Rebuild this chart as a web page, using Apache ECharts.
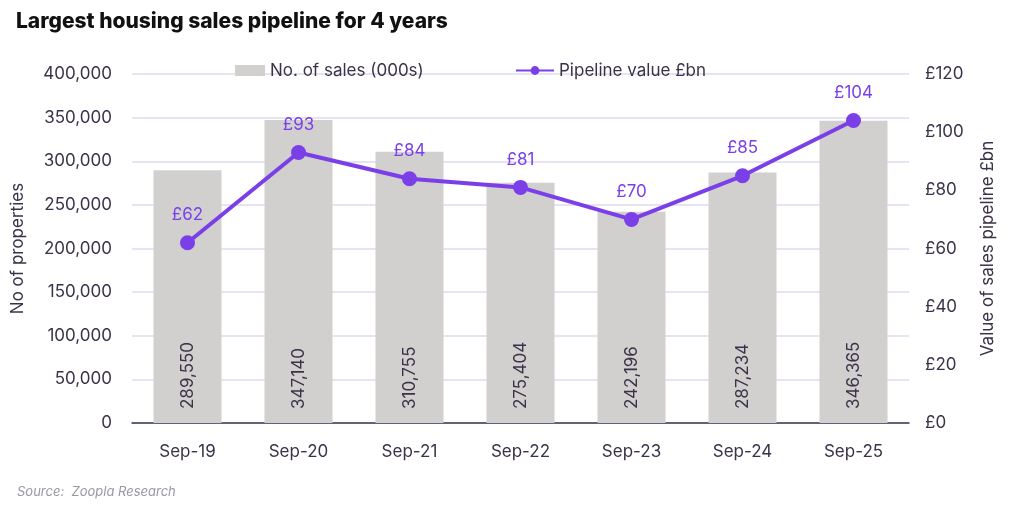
<!DOCTYPE html>
<html><head><meta charset="utf-8">
<script src="https://cdn.jsdelivr.net/npm/echarts@6/dist/echarts.min.js"></script>
<style>html,body{margin:0;padding:0;background:#fff}#c{width:1024px;height:507px}</style>
</head><body><div id="c"></div>
<script>
const categories = ['Sep-19','Sep-20','Sep-21','Sep-22','Sep-23','Sep-24','Sep-25'];
const salesCount = [289550, 347140, 310755, 275404, 242196, 287234, 346365];
const pipelineValue = [62, 93, 84, 81, 70, 85, 104];
const leftTicks = {min: 0, max: 400000, interval: 50000};
const rightTicks = {min: 0, max: 120, interval: 20};

const FONT = 'Inter, "Open Sans", sans-serif';
const TXT = '#3b3249';
const PURPLE = '#7b3fe8';
const chart = echarts.init(document.getElementById('c'));
chart.setOption({
  backgroundColor: '#fff',
  textStyle: {fontFamily: FONT},
  title: [
    {text: 'Largest housing sales pipeline for 4 years', left: 11, top: 6,
     textStyle: {fontFamily: FONT, fontWeight: 800, fontSize: 21, color: '#111'}},
    {text: 'Source:  Zoopla Research', left: 12, top: 481,
     textStyle: {fontFamily: FONT, fontStyle: 'italic', fontWeight: 'normal', fontSize: 13, color: '#9a97a0'}}
  ],
  legend: [
    {top: 57, left: 230, itemWidth: 30, itemHeight: 11,
     textStyle: {fontFamily: FONT, fontSize: 17, color: TXT},
     data: [{name: 'No. of sales (000s)', icon: 'rect'}]},
    {top: 57, left: 510, itemWidth: 38, itemHeight: 11,
     textStyle: {fontFamily: FONT, fontSize: 17, color: TXT},
     data: [{name: 'Pipeline value £bn'}]}
  ],
  grid: {left: 132, right: 115, top: 74, bottom: 84},
  xAxis: {
    type: 'category', data: categories,
    axisLine: {lineStyle: {color: '#3d3350', width: 1.5}},
    axisTick: {show: false},
    axisLabel: {fontFamily: FONT, fontSize: 17, color: TXT, margin: 20}
  },
  yAxis: [
    {type: 'value', min: leftTicks.min, max: leftTicks.max, interval: leftTicks.interval,
     name: 'No of properties', nameLocation: 'middle', nameGap: 106, nameRotate: 90,
     nameTextStyle: {fontFamily: FONT, fontSize: 17, color: TXT},
     axisLabel: {fontFamily: FONT, fontSize: 17, color: TXT, margin: 20,
       formatter: v => v.toLocaleString('en-GB')},
     splitLine: {lineStyle: {color: '#dedbee', width: 1.5}},
     axisLine: {show: false}, axisTick: {show: false}},
    {type: 'value', min: rightTicks.min, max: rightTicks.max, interval: rightTicks.interval,
     name: 'Value of sales pipeline £bn', nameLocation: 'middle', nameGap: 70, nameRotate: 90,
     nameTextStyle: {fontFamily: FONT, fontSize: 17, color: TXT},
     axisLabel: {fontFamily: FONT, fontSize: 17, color: TXT, margin: 16,
       formatter: v => '£' + v},
     splitLine: {show: false}, axisLine: {show: false}, axisTick: {show: false}}
  ],
  series: [
    {name: 'No. of sales (000s)', type: 'bar', data: salesCount, barWidth: 68,
     itemStyle: {color: '#d1d0ce'},
     label: {show: true, position: 'insideBottom', rotate: 90, align: 'left', verticalAlign: 'middle',
       distance: 14, fontFamily: FONT, fontSize: 17, color: TXT,
       formatter: p => p.value.toLocaleString('en-GB')}},
    {name: 'Pipeline value £bn', type: 'line', yAxisIndex: 1, data: pipelineValue,
     symbol: 'circle', symbolSize: 15, lineStyle: {color: PURPLE, width: 4},
     itemStyle: {color: PURPLE},
     label: {show: true, position: 'top', distance: 12, fontFamily: FONT, fontSize: 17, color: PURPLE,
       formatter: p => '£' + p.value}}
  ]
});
</script></body></html>
